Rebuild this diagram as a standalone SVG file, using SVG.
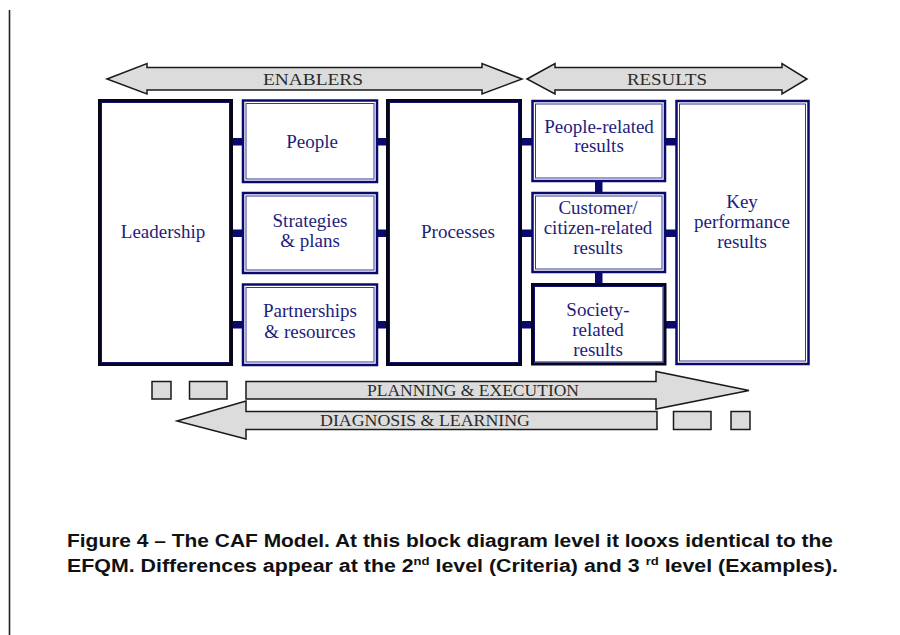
<svg xmlns="http://www.w3.org/2000/svg" width="900" height="635" viewBox="0 0 900 635">
  <style>
    .thick-out { fill: #ffffff; stroke: #05051e; stroke-width: 3; }
    .thick-in { fill: none; stroke: #101070; stroke-width: 1; }
    .dbl-out { fill: #ffffff; stroke: #0a0a6e; stroke-width: 2.5; }
    .dbl-in { fill: none; stroke: #3a3a96; stroke-width: 1; }
    .lbl { font-family: "Liberation Serif", "DejaVu Serif", serif; font-size: 19px; fill: #1e1e7c; text-anchor: middle; }
    .band { fill: #dcdcdc; stroke: #1a1a1a; stroke-width: 1.5; stroke-linejoin: miter; }
    .band-lbl { font-family: "Liberation Serif", "DejaVu Serif", serif; font-size: 16px; fill: #2a2a2a; text-anchor: middle; }
    .tab { fill: #dcdcdc; stroke: #1a1a1a; stroke-width: 1.5; }
    .link { fill: #0a0a6e; }
    .caption { font-family: "Liberation Sans", Arial, sans-serif; font-size: 18px; font-weight: bold; fill: #111111; }
  </style>

  <rect width="900" height="635" fill="#ffffff"/>
  <!-- page margin rule -->
  <line x1="9.5" y1="10" x2="9.5" y2="635" stroke="#222222" stroke-width="1.6"/>

  <!-- top bands -->
  <g id="enablers">
    <polygon class="band" points="107,79 147,63.5 147,67.5 482,67.5 482,63.5 522,79 482,94 482,90 147,90 147,94"/>
    <text class="band-lbl" x="313" y="85" textLength="100" lengthAdjust="spacingAndGlyphs">ENABLERS</text>
  </g>
  <g id="results">
    <polygon class="band" points="527,79 555,63.5 555,67.5 782,67.5 782,63.5 807,79 782,94 782,90 555,90 555,94"/>
    <text class="band-lbl" x="667" y="85" textLength="80" lengthAdjust="spacingAndGlyphs">RESULTS</text>
  </g>

  <!-- connectors -->
  <g id="connectors">
    <rect class="link" x="232" y="138" width="11" height="7.5"/>
    <rect class="link" x="232" y="229.5" width="11" height="7.5"/>
    <rect class="link" x="232" y="321" width="11" height="7.5"/>
    <rect class="link" x="377" y="138" width="10" height="7.5"/>
    <rect class="link" x="377" y="229.5" width="10" height="7.5"/>
    <rect class="link" x="377" y="321" width="10" height="7.5"/>
    <rect class="link" x="521" y="138" width="11" height="7.5"/>
    <rect class="link" x="521" y="229.5" width="11" height="7.5"/>
    <rect class="link" x="521" y="321" width="11" height="7.5"/>
    <rect class="link" x="665" y="138" width="11" height="7.5"/>
    <rect class="link" x="665" y="229.5" width="11" height="7.5"/>
    <rect class="link" x="665" y="321" width="11" height="7.5"/>
    <rect class="link" x="595" y="181" width="7.5" height="12"/>
    <rect class="link" x="595" y="272" width="7.5" height="12"/>
  </g>

  <!-- enablers column -->
  <g id="leadership">
    <rect class="thick-out" x="99.5" y="100.5" width="132" height="264"/>
    <rect class="thick-in" x="101.5" y="102.5" width="128" height="260"/>
    <text class="lbl" x="163" y="238">Leadership</text>
  </g>
  <g id="people">
    <rect class="dbl-out" x="243" y="100.5" width="134" height="81.5"/>
    <rect class="dbl-in" x="246" y="103.5" width="128" height="75.5"/>
    <text class="lbl" x="312" y="148">People</text>
  </g>
  <g id="strategies">
    <rect class="dbl-out" x="243" y="193" width="134" height="80"/>
    <rect class="dbl-in" x="246" y="196" width="128" height="74"/>
    <text class="lbl" x="310" y="227">Strategies</text>
    <text class="lbl" x="310" y="247">&amp; plans</text>
  </g>
  <g id="partnerships">
    <rect class="dbl-out" x="243" y="284.5" width="134" height="80.5"/>
    <rect class="dbl-in" x="246" y="287.5" width="128" height="74.5"/>
    <text class="lbl" x="310" y="317">Partnerships</text>
    <text class="lbl" x="310" y="338">&amp; resources</text>
  </g>
  <g id="processes">
    <rect class="thick-out" x="387.5" y="100.5" width="133" height="264"/>
    <rect class="thick-in" x="389.5" y="102.5" width="129" height="260"/>
    <text class="lbl" x="458" y="238">Processes</text>
  </g>

  <!-- results column -->
  <g id="people-results">
    <rect class="dbl-out" x="532.5" y="101" width="132.5" height="80"/>
    <rect class="dbl-in" x="535.5" y="104" width="126.5" height="74"/>
    <text class="lbl" x="599" y="133">People-related</text>
    <text class="lbl" x="599" y="152">results</text>
  </g>
  <g id="customer-results">
    <rect class="dbl-out" x="532.5" y="193" width="132.5" height="79"/>
    <rect class="dbl-in" x="535.5" y="196" width="126.5" height="73"/>
    <text class="lbl" x="598" y="214">Customer/</text>
    <text class="lbl" x="598" y="234">citizen-related</text>
    <text class="lbl" x="598" y="254">results</text>
  </g>
  <g id="society-results">
    <rect class="thick-out" x="532.5" y="284.5" width="132.5" height="79.5"/>
    <rect class="thick-in" x="534.5" y="286.5" width="128.5" height="75.5"/>
    <text class="lbl" x="598" y="316">Society-</text>
    <text class="lbl" x="598" y="336">related</text>
    <text class="lbl" x="598" y="356">results</text>
  </g>
  <g id="key-results">
    <rect class="dbl-out" x="676.5" y="101" width="132" height="263"/>
    <rect class="dbl-in" x="679.5" y="104" width="126" height="257"/>
    <text class="lbl" x="742" y="208">Key</text>
    <text class="lbl" x="742" y="228">performance</text>
    <text class="lbl" x="742" y="248">results</text>
  </g>

  <!-- cycle bands -->
  <g id="planning">
    <rect class="tab" x="152" y="381.5" width="19" height="17.5"/>
    <rect class="tab" x="189.5" y="381.5" width="37.5" height="17.5"/>
    <polygon class="band" points="246,381.5 656,381.5 656,371.5 749,390.5 656,409 656,399 246,399"/>
    <text class="band-lbl" x="473" y="396" textLength="212" lengthAdjust="spacingAndGlyphs">PLANNING &amp; EXECUTION</text>
  </g>
  <g id="diagnosis">
    <polygon class="band" points="657,411.5 657,429.5 246,429.5 246,439 177,421 246,401 246,411.5"/>
    <text class="band-lbl" x="425" y="426" textLength="210" lengthAdjust="spacingAndGlyphs">DIAGNOSIS &amp; LEARNING</text>
    <rect class="tab" x="673.5" y="411.5" width="37.5" height="18"/>
    <rect class="tab" x="731" y="411.5" width="19" height="18"/>
  </g>

  <!-- caption -->
  <text class="caption" x="67" y="547" textLength="766" lengthAdjust="spacingAndGlyphs">Figure 4 – The CAF Model. At this block diagram level it looxs identical to the</text>
  <text class="caption" x="67" y="572" textLength="771" lengthAdjust="spacingAndGlyphs">EFQM. Differences appear at the 2<tspan font-size="11" dy="-7">nd</tspan><tspan dy="7"> level (Criteria) and 3 </tspan><tspan font-size="11" dy="-7">rd</tspan><tspan dy="7"> level (Examples).</tspan></text>
</svg>
